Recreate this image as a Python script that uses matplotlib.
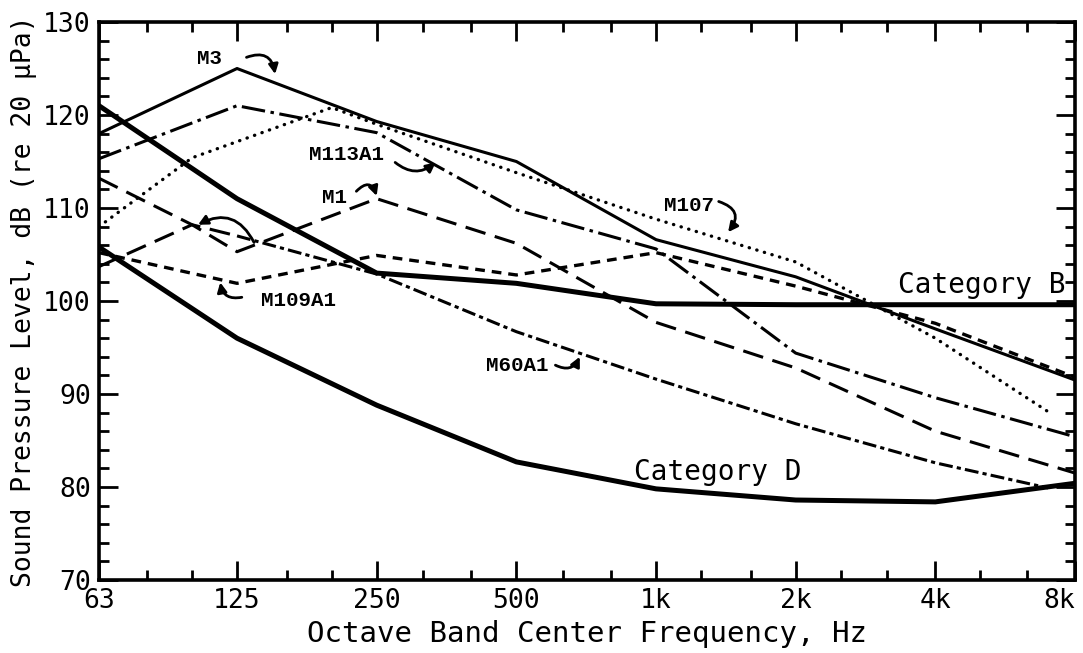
import matplotlib
matplotlib.use("Agg")
import matplotlib.pyplot as plt
from matplotlib.ticker import NullFormatter

plt.rcParams['lines.scale_dashes'] = False
plt.rcParams['font.family'] = ['DejaVu Sans Mono', 'DejaVu Sans']

# octave band centres (Hz) and tick labels
bands = [63, 125, 250, 500, 1000, 2000, 4000, 8000]
band_labels = ['63', '125', '250', '500', '1k', '2k', '4k', '8k']
third_ticks = [80, 100, 160, 200, 315, 400, 630, 800, 1250, 1600,
               2500, 3150, 5000, 6300]

# criterion curves
cat_b = [121.0, 111.0, 103.0, 101.9, 99.7, 99.6, 99.6, 99.6]
cat_d = [105.8, 96.0, 88.8, 82.7, 79.8, 78.6, 78.4, 80.4]

# vehicle spectra
m3 = [118.0, 125.0, 119.3, 115.0, 106.6, 102.6, 97.0, 91.5]
m113a1 = [115.3, 121.0, 118.1, 109.8, 105.6, 94.4, 89.6, 85.4]
m109a1 = [105.2, 101.9, 104.9, 102.8, 105.2, 101.6, 97.6, 91.8]

m107_freq = [63, 100, 200, 250, 500, 1000, 2000, 4000, 7000]
m107 = [108.0, 115.4, 120.8, 119.0, 113.8, 108.8, 104.2, 96.0, 88.1]

m1_freq = [63, 100, 125, 250, 500, 1000, 2000, 4000, 8000]
m1 = [103.7, 108.2, 105.3, 111.0, 106.2, 97.7, 92.8, 86.0, 81.5]

m60a1_freq = [63, 100, 125, 250, 500, 1000, 2000, 4000, 7000]
m60a1 = [113.2, 108.2, 107.0, 102.9, 96.7, 91.6, 86.8, 82.6, 79.9]

fig = plt.figure(figsize=(10.83, 6.53), dpi=100)
ax = fig.add_axes([0.0914, 0.1118, 0.9012, 0.8545])

ax.plot(bands, cat_b, color='black', lw=3.6, solid_joinstyle='round')
ax.plot(bands, cat_d, color='black', lw=3.6, solid_joinstyle='round')
ax.plot(bands, m3, color='black', lw=2.2)
ax.plot(bands, m113a1, color='black', lw=2.2, dashes=(17, 4, 2.5, 4))
ax.plot(bands, m109a1, color='black', lw=2.4, dashes=(7, 5))
ax.plot(m107_freq, m107, color='black', lw=2.4, dashes=(0.2, 5.5),
        dash_capstyle='round')
ax.plot(m1_freq, m1, color='black', lw=2.2, dashes=(15, 7))
ax.plot(m60a1_freq[:3], m60a1[:3], color='black', lw=2.2, dashes=(15, 7))
ax.plot(m60a1_freq[2:], m60a1[2:], color='black', lw=2.2, dashes=(10, 3, 3, 3))

ax.set_xscale('log')
ax.set_xlim(63, 8000)
ax.set_ylim(70, 130)
ax.set_xticks(bands)
ax.set_xticklabels(band_labels)
ax.set_xticks(third_ticks, minor=True)
ax.xaxis.set_minor_formatter(NullFormatter())
ax.set_yticks(range(70, 131, 10))
ax.set_yticks(range(70, 131, 2), minor=True)
ax.tick_params(which='both', direction='in', top=True, right=True,
               width=2.0, labelsize=19, color='black')
ax.tick_params(which='major', length=14, pad=6)
ax.tick_params(which='minor', length=7)
ax.get_xticklabels()[-1].set_horizontalalignment('right')
for s in ax.spines.values():
    s.set_linewidth(2.6)

ax.set_xlabel('Octave Band Center Frequency, Hz', fontsize=21, labelpad=4)
ax.set_ylabel('Sound Pressure Level, dB (re 20 \u03bcPa)', fontsize=19,
              labelpad=4)

lab = dict(fontsize=15, fontweight='bold', family='Liberation Mono',
           ha='center', va='center')
arr = dict(arrowstyle='-|>', color='black', lw=2.0, mutation_scale=14,
           shrinkA=0, shrinkB=0)

ax.text(109, 126.1, 'M3', **lab)
ax.annotate('', xy=(151, 124.4), xytext=(131, 126.2),
            arrowprops=dict(arr, connectionstyle='arc3,rad=-0.6'))

ax.text(215, 115.7, 'M113A1', **lab)
ax.annotate('', xy=(335, 114.9), xytext=(274, 114.9),
            arrowprops=dict(arr, connectionstyle='arc3,rad=0.4'))

ax.text(203, 111.1, 'M1', **lab)
ax.annotate('', xy=(250, 111.3), xytext=(226, 111.8),
            arrowprops=dict(arr, connectionstyle='arc3,rad=-0.8'))

ax.text(170, 100.1, 'M109A1', **lab)
ax.annotate('', xy=(115, 102.0), xytext=(128, 100.4),
            arrowprops=dict(arr, connectionstyle='arc3,rad=-0.5'))

ax.text(502, 93.1, 'M60A1', **lab)
ax.annotate('', xy=(685, 94.0), xytext=(607, 93.1),
            arrowprops=dict(arr, connectionstyle='arc3,rad=0.5'))

ax.text(1175, 110.3, 'M107', **lab)
ax.annotate('', xy=(1430, 107.4), xytext=(1365, 110.7),
            arrowprops=dict(arr, connectionstyle='arc3,rad=-0.7'))

ax.annotate('', xy=(103, 108.2), xytext=(136, 106.3),
            arrowprops=dict(arr, connectionstyle='arc3,rad=0.5'))

ax.text(5030, 101.7, 'Category B', fontsize=20, ha='center', va='center')
ax.text(1360, 81.6, 'Category D', fontsize=20, ha='center', va='center')

fig.savefig('out.png', dpi=100)
